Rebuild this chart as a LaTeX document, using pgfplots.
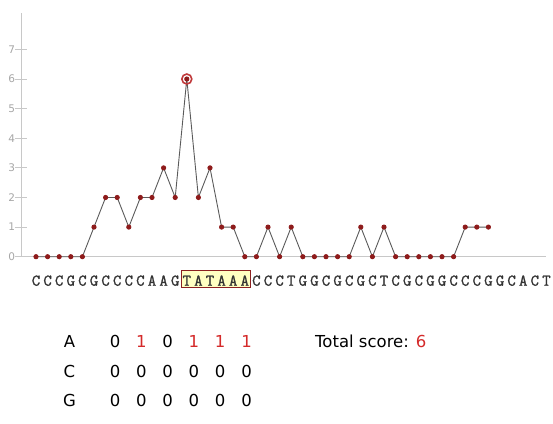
\documentclass[border=0pt]{standalone}
\usepackage{fontspec}
\setmainfont{DejaVu Sans}
\newfontfamily\seqfont{Latin Modern Mono}[FakeBold=1.3]
\usepackage{pgfplots}
\pgfplotsset{compat=1.18}
\definecolor{dotred}{HTML}{8E1B1B}
\definecolor{ringred}{HTML}{C0393B}
\definecolor{linegray}{HTML}{5A5A5A}
\definecolor{axisgray}{HTML}{C8C8C8}
\definecolor{numred}{HTML}{D42A2A}
\definecolor{boxfill}{HTML}{FFFFC2}
\definecolor{boxedge}{HTML}{8B2020}
\begin{document}
\begin{tikzpicture}[x=1pt,y=1pt]
\path (0,0) rectangle (553,423);
\begin{axis}[
  set layers,
  scale only axis,
  width=525.4pt, height=243.7pt,
  at={(21pt,166.3pt)}, anchor=south west,
  xmin=-1.293, xmax=44,
  ymin=0, ymax=8.23,
  axis x line=bottom, axis y line=left,
  axis line style={axisgray, line width=0.8pt, -},
  xtick={0,...,44},
  xticklabels={C,C,C,G,C,G,C,C,C,C,A,A,G,T,A,T,A,A,A,C,C,C,T,G,G,C,G,C,G,C,T,C,G,C,G,G,C,C,C,G,G,C,A,C,T},
  x tick style={draw=none},
  xticklabel style={font=\seqfont\fontsize{16.4}{16}\selectfont, text=black!80, anchor=base, inner sep=0pt, yshift=-23pt},
  ytick={0,...,7},
  y tick style={axisgray, line width=0.8pt},
  major tick length=12pt,
  tick align=center,
  /pgf/number format/assume math mode=true,
  yticklabel style={font=\fontsize{10.5}{12}\selectfont, text=black!35, xshift=3.5pt},
  clip=false,
]
\addplot[linegray, line width=0.9pt, mark=*, mark size=2.1pt,
  mark options={draw=dotred, fill=dotred}] coordinates {
(0,0) (1,0) (2,0) (3,0) (4,0) (5,1) (6,2) (7,2) (8,1) (9,2)
(10,2) (11,3) (12,2) (13,6) (14,2) (15,3) (16,1) (17,1) (18,0) (19,0)
(20,1) (21,0) (22,1) (23,0) (24,0) (25,0) (26,0) (27,0) (28,1) (29,0)
(30,1) (31,0) (32,0) (33,0) (34,0) (35,0) (36,0) (37,1) (38,1) (39,1)
};
\addplot[only marks, mark=o, mark size=5pt, mark options={draw=ringred, line width=1.6pt}] coordinates {(13,6)};
\begin{pgfonlayer}{axis background}
\draw[boxedge, fill=boxfill, line width=0.9pt] (axis cs:12.57,-0.45) rectangle (axis cs:18.48,-1.04);
\end{pgfonlayer}
\end{axis}
\begin{scope}[every node/.style={font=\fontsize{16.5}{16.5}\selectfont, anchor=base, inner sep=0pt}]
\node at (69.5,75.3) {A};
\node at (69.5,45.3) {C};
\node at (69.5,16.3) {G};
\foreach \v [count=\i from 0] in {0,{\color{numred}1},0,{\color{numred}1},{\color{numred}1},{\color{numred}1}}
  \node at (115+26.3*\i,75.3) {\v};
\foreach \i in {0,...,5} {
  \node at (115+26.3*\i,45.3) {0};
  \node at (115+26.3*\i,16.3) {0};
}
\node[anchor=base west] at (315,75.3) {Total score: \textcolor{numred}{6}};
\end{scope}
\end{tikzpicture}
\end{document}
